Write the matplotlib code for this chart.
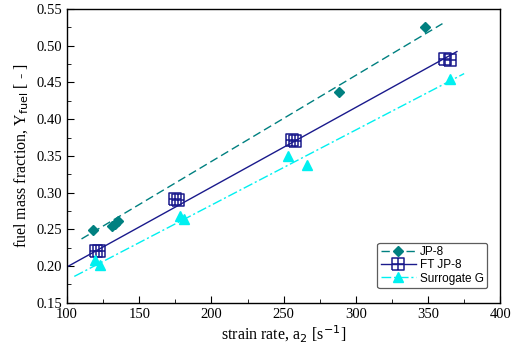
import numpy as np
import matplotlib
matplotlib.use("Agg")
import matplotlib.pyplot as plt
from matplotlib.ticker import MultipleLocator, FormatStrFormatter
from matplotlib.path import Path

# strain rate [1/s] and fuel mass fraction
jp8_x = [118, 131, 133, 135, 288, 348]
jp8_y = [0.249, 0.254, 0.258, 0.262, 0.437, 0.525]
ft_x = [120, 122, 175, 177, 256, 258, 362, 365]
ft_y = [0.221, 0.221, 0.292, 0.290, 0.372, 0.370, 0.482, 0.481]
sg_x = [119, 123, 178, 181, 253, 266, 365]
sg_y = [0.208, 0.201, 0.268, 0.264, 0.350, 0.337, 0.454]

# fit lines (end points)
jp8_line_x = [110, 360]
jp8_line_y = [0.237, 0.530]
ft_line_x = [100, 370]
ft_line_y = [0.199, 0.492]
sg_line_x = [105, 375]
sg_line_y = [0.186, 0.462]

C_JP, C_FT, C_SG = "#008080", "#1a1a8c", "#00f0f0"

# square with a cross inside
M, L = Path.MOVETO, Path.LINETO
box_plus = Path([(-1, -1), (1, -1), (1, 1), (-1, 1), (-1, -1),
                 (0, -1), (0, 1), (-1, 0), (1, 0)],
                [M, L, L, L, L, M, L, M, L])

plt.rcParams["font.family"] = "Liberation Serif"
fig = plt.figure(figsize=(5.12, 3.58), dpi=100)
ax = fig.add_axes([0.131, 0.154, 0.846, 0.821])

ax.plot(jp8_line_x, jp8_line_y, color=C_JP, ls=(0, (6, 3)), lw=1.0)
ax.plot(ft_line_x, ft_line_y, color=C_FT, ls="-", lw=1.0)
ax.plot(sg_line_x, sg_line_y, color=C_SG, ls=(0, (7, 2, 1.5, 2)), lw=1.0)

ax.plot(jp8_x, jp8_y, "D", color=C_JP, ms=5.5, ls="none")
ax.plot(ft_x, ft_y, marker=box_plus, color=C_FT, mfc="none", mew=1.1, ms=8, ls="none")
ax.plot(sg_x, sg_y, "^", color=C_SG, ms=7.5, ls="none")

# legend proxies
h1, = ax.plot([], [], marker="D", color=C_JP, ms=5.5, ls=(0, (6, 3)), lw=1.0, label="JP-8")
h2, = ax.plot([], [], marker=box_plus, color=C_FT, mfc="none", mew=1.1, ms=8, ls="-", lw=1.0, label="FT JP-8")
h3, = ax.plot([], [], marker="^", color=C_SG, ms=7.5, ls=(0, (7, 2, 1.5, 2)), lw=1.0, label="Surrogate G")
leg = ax.legend(handles=[h1, h2, h3], loc="lower right", bbox_to_anchor=(0.97, 0.05),
                prop={"family": "Liberation Sans", "size": 8.5}, frameon=True,
                fancybox=True, edgecolor="#333333", handlelength=3.0, handletextpad=0.3,
                labelspacing=0.1, borderpad=0.3, borderaxespad=0)
leg.get_frame().set_linewidth(0.9)

ax.set_xlim(100, 400)
ax.set_ylim(0.15, 0.55)
ax.xaxis.set_major_locator(MultipleLocator(50))
ax.xaxis.set_minor_locator(MultipleLocator(25))
ax.yaxis.set_major_locator(MultipleLocator(0.05))
ax.yaxis.set_minor_locator(MultipleLocator(0.025))
ax.yaxis.set_major_formatter(FormatStrFormatter("%.2f"))
ax.tick_params(which="both", direction="in", top=False, right=False, labelsize=10.5)
ax.tick_params(which="major", length=5)
ax.tick_params(which="minor", length=3)
for s in ax.spines.values():
    s.set_linewidth(1.0)

ax.set_xlabel(r"strain rate, a$_2$ [s$^{-1}$]", fontsize=11.5, labelpad=2)
ax.set_ylabel(r"fuel mass fraction, Y$_{\rm fuel}$ [ - ]", fontsize=11.5, labelpad=4)

fig.savefig("out.png", dpi=100)
